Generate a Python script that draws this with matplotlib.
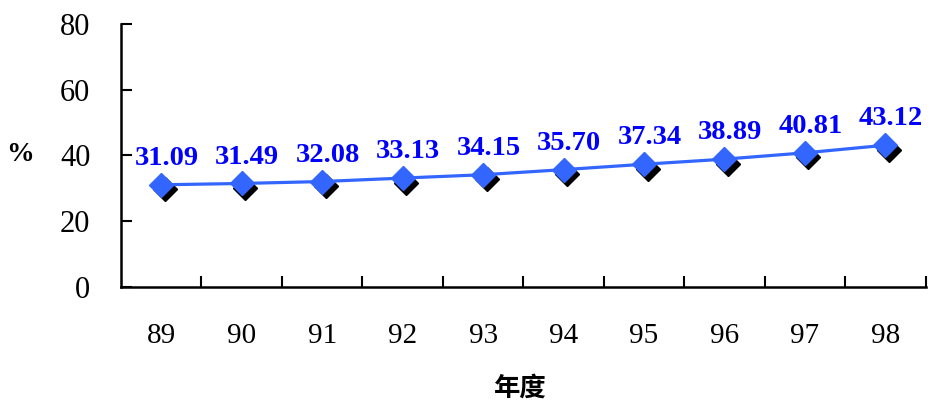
import matplotlib
matplotlib.use('Agg')
import matplotlib.pyplot as plt
import matplotlib.transforms as mtransforms

### Data
years = ['89', '90', '91', '92', '93', '94', '95', '96', '97', '98']
values = [31.09, 31.49, 32.08, 33.13, 34.15, 35.70, 37.34, 38.89, 40.81, 43.12]
y_ticks = [0, 20, 40, 60, 80]

fig = plt.figure(figsize=(9.35, 4.05), dpi=100)
ax = fig.add_axes([0.1294, 0.2914, 0.8606, 0.6493])

x = list(range(len(years)))

### Shadow of the markers
shadow = ax.transData + mtransforms.ScaledTranslation(3.5 / 100, -4.5 / 100, fig.dpi_scale_trans)
ax.plot(x, values, linestyle='none', marker='D', markersize=12.5, color='black', transform=shadow, zorder=2)

### Line and markers
ax.plot(x, values, color='#3366FF', linewidth=2.3, marker='D', markersize=12.5,
        markerfacecolor='#3366FF', markeredgecolor='#3366FF', zorder=3)

### Value labels
for xi, v in zip(x, values):
    ax.annotate('%.2f' % v, (xi, v), xytext=(4, 10), textcoords='offset points',
                ha='center', va='bottom', color='#0000FF', fontsize=20.5,
                fontweight='bold', family='Liberation Serif')

ax.set_xlim(-0.5, len(years) - 0.5)
ax.set_ylim(0, 80)
ax.set_yticks(y_ticks)
ax.set_yticklabels([str(t) for t in y_ticks], family='Liberation Serif', fontsize=22)
ax.set_xticks(x)
ax.set_xticklabels(years, family='Liberation Serif', fontsize=21)
ax.set_xticks([i + 0.5 for i in range(len(years))], minor=True)

ax.tick_params(axis='x', which='major', length=0, pad=26)
ax.tick_params(axis='x', which='minor', direction='in', length=8, width=1.5)
ax.tick_params(axis='y', direction='in', length=8, width=1.5, pad=22)

for s in ['top', 'right']:
    ax.spines[s].set_visible(False)
for s in ['left', 'bottom']:
    ax.spines[s].set_linewidth(1.8)

fig.text(0.021, 0.618, '%', fontsize=20, fontweight='bold', family='Liberation Serif', ha='center', va='center')
fig.text(0.556, 0.042, '年度', fontsize=19, fontweight='bold', family=['Noto Sans CJK TC', 'DejaVu Sans'],
         ha='center', va='center')

plt.savefig('out.png', dpi=100)
